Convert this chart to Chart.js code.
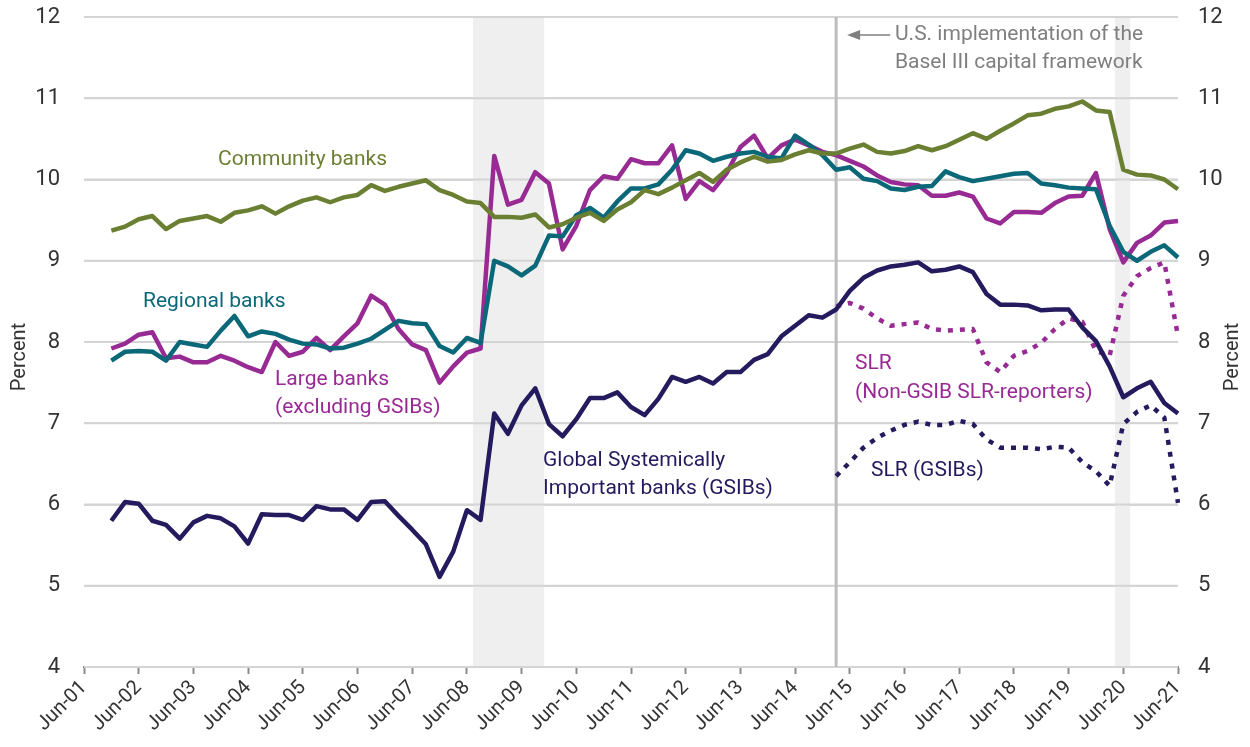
<!DOCTYPE html>
<html>
<head>
<meta charset="utf-8">
<script src="https://cdn.jsdelivr.net/npm/chart.js@4.4.1/dist/chart.umd.min.js"></script>
<style>
  html, body { margin: 0; padding: 0; background: #fff; }
  canvas { display: block; }
</style>
</head>
<body>
<canvas id="chart" width="1250" height="747"></canvas>
<script>
// quarters Jun-01 .. Jun-21
const months = ["Jun", "Sep", "Dec", "Mar"];
const quarters = [];
for (let i = 0; i <= 80; i++) {
  const m = months[i % 4];
  const yr = 1 + Math.floor((i + 2) / 4);
  quarters.push(m + "-" + String(yr).padStart(2, "0"));
}

// Tier 1 leverage ratio, percent (first two quarters have no data)
const community = [null, null,
  9.37, 9.42, 9.51, 9.55, 9.39, 9.49, 9.52, 9.55, 9.48, 9.59,
  9.62, 9.67, 9.58, 9.67, 9.74, 9.78, 9.72, 9.78, 9.81, 9.93,
  9.86, 9.91, 9.95, 9.99, 9.87, 9.81, 9.73, 9.71, 9.54, 9.54,
  9.53, 9.57, 9.41, 9.45, 9.53, 9.59, 9.49, 9.63, 9.72, 9.87,
  9.82, 9.90, 9.99, 10.08, 9.97, 10.12, 10.21, 10.28, 10.22, 10.24,
  10.31, 10.36, 10.32, 10.32, 10.38, 10.43, 10.34, 10.32, 10.35, 10.41,
  10.36, 10.41, 10.49, 10.57, 10.50, 10.60, 10.69, 10.79, 10.81, 10.87,
  10.90, 10.96, 10.85, 10.83, 10.12, 10.06, 10.05, 10.00, 9.88];

const regional = [null, null,
  7.77, 7.88, 7.89, 7.88, 7.77, 8.00, 7.97, 7.94, 8.14, 8.32,
  8.07, 8.13, 8.10, 8.03, 7.98, 7.97, 7.92, 7.93, 7.98, 8.04,
  8.15, 8.26, 8.23, 8.22, 7.95, 7.87, 8.05, 7.99, 9.00, 8.93,
  8.82, 8.94, 9.31, 9.30, 9.56, 9.65, 9.53, 9.73, 9.89, 9.89,
  9.94, 10.12, 10.36, 10.32, 10.23, 10.28, 10.32, 10.34, 10.28, 10.26,
  10.54, 10.43, 10.30, 10.12, 10.15, 10.01, 9.98, 9.89, 9.87, 9.91,
  9.92, 10.10, 10.03, 9.98, 10.01, 10.04, 10.07, 10.08, 9.95, 9.93,
  9.90, 9.89, 9.88, 9.43, 9.11, 9.00, 9.11, 9.19, 9.04];

const large = [null, null,
  7.92, 7.98, 8.09, 8.12, 7.80, 7.82, 7.75, 7.75, 7.83, 7.77,
  7.69, 7.63, 8.00, 7.83, 7.88, 8.05, 7.90, 8.07, 8.23, 8.57,
  8.46, 8.16, 7.97, 7.90, 7.50, 7.70, 7.87, 7.92, 10.29, 9.69,
  9.75, 10.09, 9.95, 9.14, 9.43, 9.87, 10.04, 10.01, 10.25, 10.20,
  10.20, 10.42, 9.76, 9.98, 9.87, 10.08, 10.40, 10.54, 10.26, 10.42,
  10.49, 10.42, 10.34, 10.30, 10.23, 10.16, 10.05, 9.97, 9.94, 9.93,
  9.80, 9.80, 9.84, 9.79, 9.52, 9.46, 9.60, 9.60, 9.59, 9.71,
  9.79, 9.80, 10.08, 9.39, 8.98, 9.22, 9.31, 9.47, 9.49];

const gsib = [null, null,
  5.80, 6.03, 6.01, 5.80, 5.75, 5.58, 5.78, 5.86, 5.83, 5.73,
  5.52, 5.88, 5.87, 5.87, 5.81, 5.98, 5.94, 5.94, 5.81, 6.03,
  6.04, 5.86, 5.69, 5.51, 5.11, 5.42, 5.93, 5.81, 7.12, 6.87,
  7.22, 7.43, 6.99, 6.84, 7.05, 7.31, 7.31, 7.38, 7.20, 7.10,
  7.30, 7.57, 7.51, 7.57, 7.49, 7.63, 7.63, 7.78, 7.85, 8.07,
  8.20, 8.33, 8.30, 8.40, 8.63, 8.79, 8.88, 8.93, 8.95, 8.98,
  8.87, 8.89, 8.93, 8.86, 8.59, 8.46, 8.46, 8.45, 8.39, 8.40,
  8.40, 8.18, 8.01, 7.70, 7.32, 7.43, 7.51, 7.25, 7.12];

// supplementary leverage ratio, from Mar-15
const slrStart = 55;
const slrGsibValues = [6.35, 6.52, 6.70, 6.82, 6.91, 6.98, 7.02, 6.98, 6.98, 7.03,
  6.99, 6.80, 6.70, 6.70, 6.70, 6.68, 6.71, 6.70, 6.52, 6.41,
  6.23, 6.99, 7.14, 7.22, 7.07, 6.02];
const slrNonGsibValues = [8.44, 8.48, 8.41, 8.29, 8.20, 8.22, 8.24, 8.16, 8.14, 8.15,
  8.16, 7.75, 7.63, 7.83, 7.89, 7.99, 8.16, 8.29, 8.25, 7.89,
  7.83, 8.57, 8.81, 8.91, 8.98, 8.07];

const yTicks = [4, 5, 6, 7, 8, 9, 10, 11, 12];
const recessions = [[28.45, 33.65], [75.4, 76.5]];
const basel3 = 55;

const padNulls = (vals) => new Array(slrStart).fill(null).concat(vals);

const colors = {
  community: "#6b7f33",
  regional: "#0b6878",
  large: "#982a94",
  gsib: "#241a5e",
  note: "#7f7f7f",
  text: "#333333",
};

const FONT = "Roboto, 'Open Sans', sans-serif";

const extras = {
  id: "extras",
  beforeDatasetsDraw(chart) {
    const { ctx, chartArea: a, scales } = chart;
    const x = scales.x;
    ctx.save();
    ctx.fillStyle = "#efefef";
    recessions.forEach(([s, e]) => {
      const x0 = x.getPixelForValue(s);
      const x1 = x.getPixelForValue(e);
      ctx.fillRect(x0, a.top, x1 - x0, a.bottom - a.top);
    });
    // redraw gridlines over the bands
    ctx.strokeStyle = "#d4d4d4";
    ctx.lineWidth = 2;
    yTicks.forEach((v) => {
      const yy = scales.y.getPixelForValue(v);
      ctx.beginPath();
      ctx.moveTo(a.left, yy);
      ctx.lineTo(a.right, yy);
      ctx.stroke();
    });
    const bx = x.getPixelForValue(basel3);
    ctx.strokeStyle = "#bdbdbd";
    ctx.lineWidth = 3;
    ctx.beginPath();
    ctx.moveTo(bx, a.top);
    ctx.lineTo(bx, a.bottom);
    ctx.stroke();
    ctx.restore();
  },
  afterDraw(chart) {
    const { ctx, chartArea: a, scales } = chart;
    ctx.save();
    ctx.textBaseline = "middle";
    ctx.textAlign = "left";
    ctx.font = "21px " + FONT;
    const put = (txt, color, px, py) => {
      ctx.fillStyle = color;
      ctx.fillText(txt, px, py);
    };
    put("Community banks", colors.community, 218, 160);
    put("Regional banks", colors.regional, 143, 302);
    put("Large banks", colors.large, 275, 380);
    put("(excluding GSIBs)", colors.large, 275, 408);
    put("Global Systemically", colors.gsib, 543, 461);
    put("Important banks (GSIBs)", colors.gsib, 543, 489);
    put("SLR", colors.large, 855, 364);
    put("(Non-GSIB SLR-reporters)", colors.large, 855, 393);
    put("SLR (GSIBs)", colors.gsib, 871, 471);
    put("U.S. implementation of the", colors.note, 895, 35);
    put("Basel III capital framework", colors.note, 895, 63);

    // arrow toward the Basel III line
    const bx = scales.x.getPixelForValue(basel3);
    ctx.strokeStyle = colors.note;
    ctx.fillStyle = colors.note;
    ctx.lineWidth = 1.5;
    ctx.beginPath();
    ctx.moveTo(bx + 22, 35);
    ctx.lineTo(bx + 54, 35);
    ctx.stroke();
    ctx.beginPath();
    ctx.moveTo(bx + 11, 35);
    ctx.lineTo(bx + 24, 30);
    ctx.lineTo(bx + 24, 40);
    ctx.closePath();
    ctx.fill();

    // axis titles, both reading bottom to top
    ctx.fillStyle = colors.text;
    ctx.textAlign = "center";
    ctx.font = "20px " + FONT;
    const midY = (a.top + a.bottom) / 2 + 15;
    [20, 1233].forEach((tx) => {
      ctx.save();
      ctx.translate(tx, midY);
      ctx.rotate(-Math.PI / 2);
      ctx.fillText("Percent", 0, 0);
      ctx.restore();
    });
    ctx.restore();
  },
};

const line = (data, color, dotted) => ({
  data,
  borderColor: color,
  backgroundColor: color,
  borderWidth: 4.5,
  borderDash: dotted ? [5, 7] : [],
  borderCapStyle: "butt",
  borderJoinStyle: "round",
  pointRadius: 0,
  tension: 0,
  spanGaps: false,
});

const fitY = (w) => (s) => {
  s.width = w;
  s.paddingTop = 0;
  s.paddingBottom = 0;
};

new Chart(document.getElementById("chart"), {
  type: "line",
  data: {
    labels: quarters,
    datasets: [
      line(community, colors.community),
      line(regional, colors.regional),
      line(large, colors.large),
      line(gsib, colors.gsib),
      line(padNulls(slrNonGsibValues), colors.large, true),
      line(padNulls(slrGsibValues), colors.gsib, true),
    ],
  },
  options: {
    responsive: false,
    animation: false,
    layout: { padding: { top: 17 } },
    plugins: { legend: { display: false }, tooltip: { enabled: false } },
    scales: {
      x: {
        offset: false,
        afterFit: (s) => { s.height = 80; },
        border: { display: true, color: "#8a8a8a", width: 2 },
        grid: {
          drawOnChartArea: false,
          drawTicks: true,
          tickLength: 7,
          tickWidth: 2,
          tickColor: (c) => (c.index % 4 === 0 ? "#8a8a8a" : "rgba(0,0,0,0)"),
        },
        ticks: {
          autoSkip: false,
          minRotation: 45,
          maxRotation: 45,
          padding: 2,
          color: colors.text,
          font: { family: FONT, size: 20 },
          callback: (v, i) => (i % 4 === 0 ? quarters[i] : ""),
        },
      },
      y: {
        position: "left",
        min: 4,
        max: 12,
        afterFit: fitY(84),
        afterBuildTicks: (s) => { s.ticks = yTicks.map((v) => ({ value: v })); },
        border: { display: false },
        grid: { color: "#d4d4d4", lineWidth: 2, drawTicks: false },
        ticks: {
          padding: 24,
          color: colors.text,
          font: { family: FONT, size: 22 },
        },
      },
      y2: {
        position: "right",
        min: 4,
        max: 12,
        afterFit: fitY(72),
        afterBuildTicks: (s) => { s.ticks = yTicks.map((v) => ({ value: v })); },
        border: { display: false },
        grid: { display: false, drawTicks: false },
        ticks: {
          padding: 20,
          color: colors.text,
          font: { family: FONT, size: 22 },
        },
      },
    },
  },
  plugins: [extras],
});
</script>
</body>
</html>
